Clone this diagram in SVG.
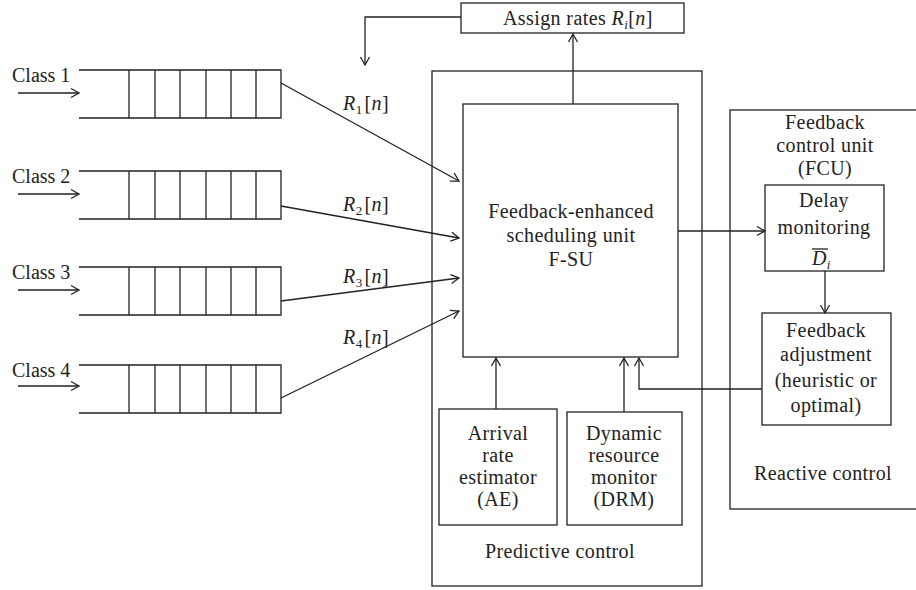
<svg xmlns="http://www.w3.org/2000/svg" width="916" height="590" viewBox="0 0 916 590" font-family="'Liberation Serif', serif">
  <style>
    .box { fill: none; stroke: #222; stroke-width: 1.3; }
    .ln { fill: none; stroke: #222; stroke-width: 1.3; }
    .arr { fill: none; stroke: #222; stroke-width: 1.3; marker-end: url(#ah); }
    text { font-family: 'Liberation Serif', serif; font-size: 20px; fill: #222; letter-spacing: 0.4px; }
    .cls { letter-spacing: 0; }
    .c { text-anchor: middle; }
    .it { font-style: italic; }
  </style>
  <defs>
    <marker id="ah" markerWidth="12" markerHeight="12" refX="10" refY="6" orient="auto" markerUnits="userSpaceOnUse">
      <path d="M2,1.5 L10,6 L2,10.5" fill="none" stroke="#222" stroke-width="1.3"/>
    </marker>
    <g id="queue">
      <path class="ln" d="M79,0 H281 V48 H79 M129,0 V48 M155,0 V48 M180,0 V48 M206,0 V48 M231,0 V48 M256,0 V48"/>
    </g>
  </defs>
  <rect width="916" height="590" fill="#fff"/>

  <!-- input class queues -->
  <g id="class1">
    <use href="#queue" transform="translate(0,70)"/>
    <text class="cls" x="12" y="82">Class 1</text>
  </g>
  <g id="class2">
    <use href="#queue" transform="translate(0,171)"/>
    <text class="cls" x="12" y="183">Class 2</text>
  </g>
  <g id="class3">
    <use href="#queue" transform="translate(0,267)"/>
    <text class="cls" x="12" y="279">Class 3</text>
  </g>
  <g id="class4">
    <use href="#queue" transform="translate(0,365)"/>
    <text class="cls" x="12" y="377">Class 4</text>
  </g>

  <!-- rate assignment -->
  <g id="assign">
    <rect class="box" x="461" y="3" width="223" height="30"/>
    <text x="503" y="25">Assign rates <tspan class="it">R</tspan><tspan class="it" font-size="13" dy="4">i</tspan><tspan dy="-4">[</tspan><tspan class="it">n</tspan>]</text>
  </g>

  <!-- predictive control -->
  <g id="predictive">
    <rect class="box" x="432" y="71" width="270" height="515"/>
    <text class="c" x="560" y="558">Predictive control</text>
  </g>
  <g id="fsu">
    <rect class="box" x="463" y="104" width="215" height="253"/>
    <text class="c" x="571" y="218">Feedback-enhanced</text>
    <text class="c" x="571" y="242">scheduling unit</text>
    <text class="c" x="571" y="266">F-SU</text>
  </g>
  <g id="ae">
    <rect class="box" x="439" y="409" width="118" height="116"/>
    <text class="c" x="498" y="440">Arrival</text>
    <text class="c" x="498" y="462">rate</text>
    <text class="c" x="498" y="484">estimator</text>
    <text class="c" x="498" y="506">(AE)</text>
  </g>
  <g id="drm">
    <rect class="box" x="567" y="412" width="115" height="113"/>
    <text class="c" x="624" y="440">Dynamic</text>
    <text class="c" x="624" y="462">resource</text>
    <text class="c" x="624" y="484">monitor</text>
    <text class="c" x="624" y="506">(DRM)</text>
  </g>

  <!-- reactive control -->
  <g id="fcu">
    <rect class="box" x="730" y="110" width="200" height="399"/>
    <text class="c" x="825" y="129">Feedback</text>
    <text class="c" x="825" y="152">control unit</text>
    <text class="c" x="825" y="175">(FCU)</text>
    <text class="c" x="823" y="480">Reactive control</text>
  </g>
  <g id="delay">
    <rect class="box" x="765" y="185" width="119" height="86"/>
    <text class="c" x="824" y="207">Delay</text>
    <text class="c" x="824" y="234">monitoring</text>
    <text x="812" y="265"><tspan class="it">D</tspan><tspan class="it" font-size="13" dy="4">i</tspan></text>
    <line class="ln" x1="812" y1="249" x2="828" y2="249"/>
  </g>
  <g id="adjust">
    <rect class="box" x="762" y="313" width="129" height="112"/>
    <text class="c" x="826" y="337">Feedback</text>
    <text class="c" x="826" y="361">adjustment</text>
    <text class="c" x="826" y="387">(heuristic or</text>
    <text class="c" x="826" y="412">optimal)</text>
  </g>

  <!-- connectors -->
  <g id="connectors">
    <line class="arr" x1="18" y1="93" x2="79" y2="93"/>
    <line class="arr" x1="18" y1="194" x2="79" y2="194"/>
    <line class="arr" x1="18" y1="290" x2="79" y2="290"/>
    <line class="arr" x1="18" y1="386" x2="79" y2="386"/>

    <line class="arr" x1="281" y1="83" x2="459" y2="181"/>
    <line class="arr" x1="281" y1="206" x2="459" y2="238"/>
    <line class="arr" x1="281" y1="301" x2="459" y2="278"/>
    <line class="arr" x1="281" y1="398" x2="459" y2="311"/>

    <line class="arr" x1="573" y1="104" x2="573" y2="34"/>
    <polyline class="arr" points="461,17 365,17 365,65"/>

    <line class="arr" x1="678" y1="231" x2="765" y2="231"/>
    <line class="arr" x1="825" y1="271" x2="825" y2="313"/>
    <polyline class="arr" points="762,389 639,389 639,358"/>
    <line class="arr" x1="624" y1="412" x2="624" y2="358"/>
    <line class="arr" x1="496" y1="409" x2="496" y2="358"/>
  </g>

  <!-- rate labels -->
  <g id="rate-labels">
    <text x="343" y="110"><tspan class="it">R</tspan><tspan font-size="13" dy="4">1</tspan><tspan dx="2" dy="-4">[</tspan><tspan class="it">n</tspan>]</text>
    <text x="343" y="211"><tspan class="it">R</tspan><tspan font-size="13" dy="4">2</tspan><tspan dx="2" dy="-4">[</tspan><tspan class="it">n</tspan>]</text>
    <text x="343" y="283"><tspan class="it">R</tspan><tspan font-size="13" dy="4">3</tspan><tspan dx="2" dy="-4">[</tspan><tspan class="it">n</tspan>]</text>
    <text x="343" y="344"><tspan class="it">R</tspan><tspan font-size="13" dy="4">4</tspan><tspan dx="2" dy="-4">[</tspan><tspan class="it">n</tspan>]</text>
  </g>
</svg>
